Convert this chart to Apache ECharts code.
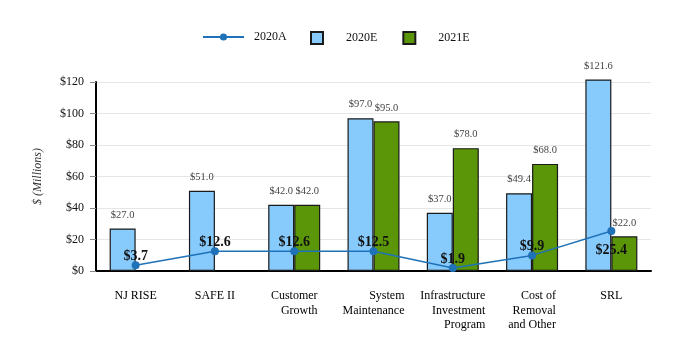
<!DOCTYPE html>
<html>
<head>
<meta charset="utf-8">
<script src="https://cdn.jsdelivr.net/npm/echarts@6/dist/echarts.min.js"></script>
<style>
  html, body { margin: 0; padding: 0; background: #fff; }
  #chart { width: 684px; height: 354px; }
</style>
</head>
<body>
<div id="chart"></div>
<script>
const categories = ['NJ RISE', 'SAFE II', 'Customer\nGrowth', 'System\nMaintenance', 'Infrastructure\nInvestment\nProgram', 'Cost of\nRemoval\nand Other', 'SRL']
const actual2020 = [3.7, 12.6, 12.6, 12.5, 1.9, 9.9, 25.4]
const est2020 = [27.0, 51.0, 42.0, 97.0, 37.0, 49.4, 121.6]
const est2021 = [null, null, 42.0, 95.0, 78.0, 68.0, 22.0]
const yTicks = [0, 20, 40, 60, 80, 100, 120]

const serif = '"Liberation Serif", "DejaVu Serif", serif'
const myChart = echarts.init(document.getElementById('chart'))

const money = v => '$' + Number(v).toFixed(1)
const legendText = { fontFamily: serif, fontSize: 12, color: '#111', padding: [0, 0, 0, 5] }

let option = {
  animation: false,
  textStyle: { fontFamily: serif },
  legend: [
    {
      top: 26,
      left: 198,
      itemWidth: 41,
      itemHeight: 14,
      textStyle: legendText,
      data: [{ name: '2020A', icon: 'path://M0,6 L40,6 L40,8 L0,8 Z M20,3.5 A3.5,3.5 0 1,1 19.99,3.5 Z M20,3.5 L20,10.5 Z' }]
    },
    {
      top: 26,
      left: 305,
      itemWidth: 12,
      itemHeight: 12,
      itemGap: 25,
      textStyle: Object.assign({}, legendText, { padding: [0, 0, 0, 18] }),
      data: [{ name: '2020E', icon: 'rect' }, { name: '2021E', icon: 'rect' }]
    }
  ],
  grid: {
    left: 96,
    right: 33,
    top: 82,
    bottom: 83
  },
  xAxis: {
    type: 'category',
    data: categories,
    axisLine: { lineStyle: { color: '#000', width: 2 } },
    axisTick: { alignWithLabel: true, length: 5, lineStyle: { color: '#888' } },
    axisLabel: {
      margin: 18,
      interval: 0,
      formatter: v => v.split('\n').map(s => '{r|' + s + '}').join('\n'),
      rich: {
        r: { align: 'right', fontFamily: serif, fontSize: 12, lineHeight: 14.5, color: '#000' }
      }
    }
  },
  yAxis: {
    type: 'value',
    min: yTicks[0],
    max: yTicks[yTicks.length - 1],
    interval: 20,
    name: '$ (Millions)',
    nameLocation: 'middle',
    nameGap: 52,
    nameTextStyle: { fontFamily: serif, fontStyle: 'italic', fontSize: 12, color: '#333' },
    axisLine: { show: true, lineStyle: { color: '#000', width: 2 } },
    axisTick: { show: true, length: 6, lineStyle: { color: '#888' } },
    axisLabel: {
      margin: 12,
      fontFamily: serif,
      fontSize: 12,
      color: '#111',
      formatter: v => '$' + v
    },
    splitLine: { lineStyle: { color: '#e6e6e6' } }
  },
  series: [
    {
      name: '2020E',
      type: 'bar',
      data: est2020,
      barWidth: 26,
      barGap: 0,
      clip: false,
      itemStyle: { color: '#87cafc', borderColor: '#1a1a1a', borderWidth: 1.2 },
      label: {
        show: true,
        position: 'top',
        distance: 8,
        fontFamily: serif,
        fontSize: 10.5,
        color: '#444',
        formatter: p => money(p.value)
      }
    },
    {
      name: '2021E',
      type: 'bar',
      data: est2021,
      barWidth: 26,
      barGap: 0,
      itemStyle: { color: '#5a9607', borderColor: '#1a1a1a', borderWidth: 1.2 },
      label: {
        show: true,
        position: 'top',
        distance: 8,
        fontFamily: serif,
        fontSize: 10.5,
        color: '#444',
        formatter: p => money(p.value)
      }
    },
    {
      name: '2020A',
      type: 'line',
      data: actual2020.map((v, i) => i === 6
        ? { value: v, label: { position: 'bottom', distance: 8 } }
        : v),
      symbol: 'circle',
      symbolSize: 8,
      z: 5,
      lineStyle: { color: '#1f72b8', width: 1.5 },
      itemStyle: { color: '#1f72b8' },
      label: {
        show: true,
        position: 'top',
        distance: -2,
        fontFamily: serif,
        fontSize: 14,
        fontWeight: 'bold',
        color: '#111',
        formatter: p => money(p.value)
      }
    }
  ]
}

myChart.setOption(option)
</script>
</body>
</html>
